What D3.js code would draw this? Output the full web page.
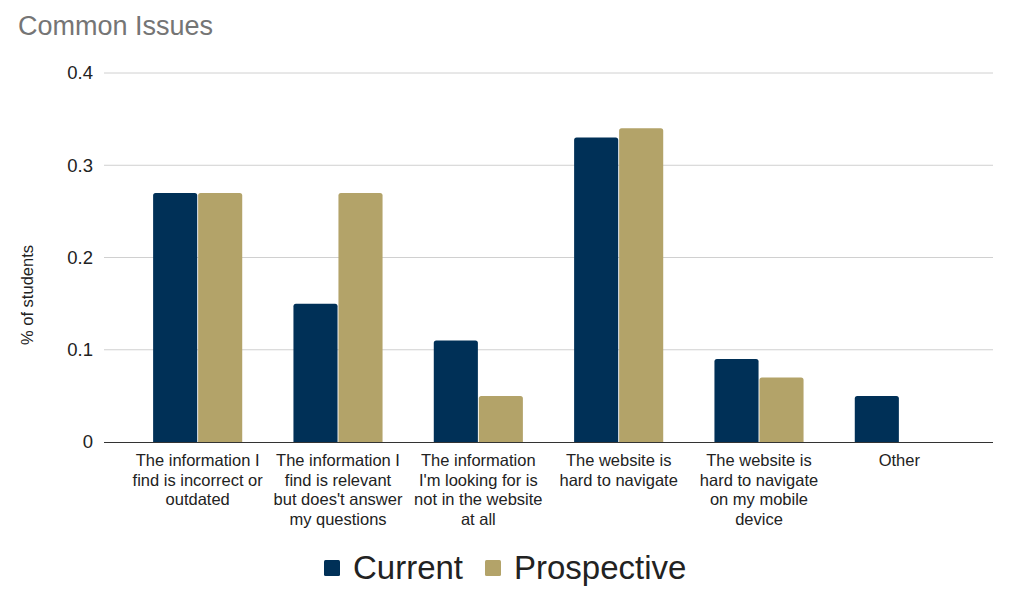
<!DOCTYPE html>
<html><head><meta charset="utf-8">
<script src="https://cdn.jsdelivr.net/npm/d3@7"></script>
<style>body{margin:0;background:#fff;} svg{display:block;font-family:"Liberation Sans",Arial,sans-serif;}</style>
</head><body>
<svg id="chart" width="1024" height="598"></svg>
<script>
const categories = [
  ["The information I","find is incorrect or","outdated"],
  ["The information I","find is relevant","but does't answer","my questions"],
  ["The information","I'm looking for is","not in the website","at all"],
  ["The website is","hard to navigate"],
  ["The website is","hard to navigate","on my mobile","device"],
  ["Other"]
];
const seriesNames = ["Current","Prospective"];
const currentValues = [0.27, 0.15, 0.11, 0.33, 0.09, 0.05];
const prospectiveValues = [0.27, 0.27, 0.05, 0.34, 0.07, 0];
const yTicks = [0, 0.1, 0.2, 0.3, 0.4];
const colors = ["#003057", "#B3A369"];

(function() {
const svg = d3.select("#chart");
const mLeft = 104, mRight = 993, mTop = 73, mBottom = 442;
const idx = d3.range(categories.length);
const x0 = d3.scaleBand().domain(idx).range([mLeft, mRight]).paddingInner(0.365).paddingOuter(0.35);
const x1 = d3.scaleBand().domain(seriesNames).range([0, x0.bandwidth()]).paddingInner(0.02);
const y = d3.scaleLinear().domain([0, 0.4]).range([mBottom, mTop]);
const color = d3.scaleOrdinal().domain(seriesNames).range(colors);

// title
svg.append("text").attr("x", 18).attr("y", 35).attr("fill", "#757575")
  .style("font-size", "27px").text("Common Issues");

// grid
svg.append("g").selectAll("line").data(yTicks.filter(d => d > 0)).join("line")
  .attr("x1", mLeft).attr("x2", mRight).attr("y1", d => y(d)).attr("y2", d => y(d))
  .attr("stroke", "#d0d0d0").attr("stroke-width", 1);

// y axis labels
const yAxis = d3.axisLeft(y).tickValues(yTicks).tickSize(0).tickPadding(11)
  .tickFormat(d => d === 0 ? "0" : d3.format(".1f")(d));
const yg = svg.append("g").attr("transform", `translate(${mLeft},0)`).call(yAxis);
yg.select(".domain").remove();
yg.selectAll("text").style("font-size", "18.5px").attr("fill", "#222").style("font-family", "'Liberation Sans',Arial,sans-serif");

// y title
svg.append("text").attr("transform", `translate(33,295) rotate(-90)`)
  .attr("text-anchor", "middle").style("font-size", "16.5px").attr("fill", "#222").text("% of students");

// bars
const data = idx.map(i => ({i, vals: [currentValues[i], prospectiveValues[i]]}));
function barPath(x, yTop, w, h, r) {
  if (h <= 0) return "";
  r = Math.min(r, h, w / 2);
  return `M${x},${yTop + h}V${yTop + r}Q${x},${yTop} ${x + r},${yTop}H${x + w - r}Q${x + w},${yTop} ${x + w},${yTop + r}V${yTop + h}Z`;
}
const groups = svg.append("g").selectAll("g").data(data).join("g")
  .attr("transform", d => `translate(${x0(d.i)},0)`);
groups.selectAll("path").data(d => d.vals.map((v, k) => ({name: seriesNames[k], v}))).join("path")
  .attr("d", d => barPath(x1(d.name), y(d.v), x1.bandwidth(), mBottom - y(d.v), 2.5))
  .attr("fill", d => color(d.name));

// baseline
svg.append("line").attr("x1", mLeft).attr("x2", mRight).attr("y1", mBottom + 0.5).attr("y2", mBottom + 0.5)
  .attr("stroke", "#333").attr("stroke-width", 1.2);

// x labels
const xl = svg.append("g").selectAll("text").data(idx).join("text")
  .attr("x", i => x0(i) + x0.bandwidth() / 2).attr("y", 466)
  .attr("text-anchor", "middle").style("font-size", "16.5px").attr("fill", "#222");
xl.selectAll("tspan").data(i => categories[i]).join("tspan")
  .attr("x", function() { return d3.select(this.parentNode).attr("x"); })
  .attr("dy", (d, k) => k === 0 ? 0 : 19.5).text(d => d);

// legend
const leg = svg.append("g");
const legItems = [{name: "Current", sx: 324, tx: 353}, {name: "Prospective", sx: 485, tx: 514}];
leg.selectAll("rect").data(legItems).join("rect")
  .attr("x", d => d.sx).attr("y", 560).attr("width", 16).attr("height", 16).attr("rx", 1.5)
  .attr("fill", d => color(d.name));
leg.selectAll("text").data(legItems).join("text")
  .attr("x", d => d.tx).attr("y", 579).style("font-size", "33px").attr("fill", "#222").text(d => d.name);
})();
</script>
</body></html>
